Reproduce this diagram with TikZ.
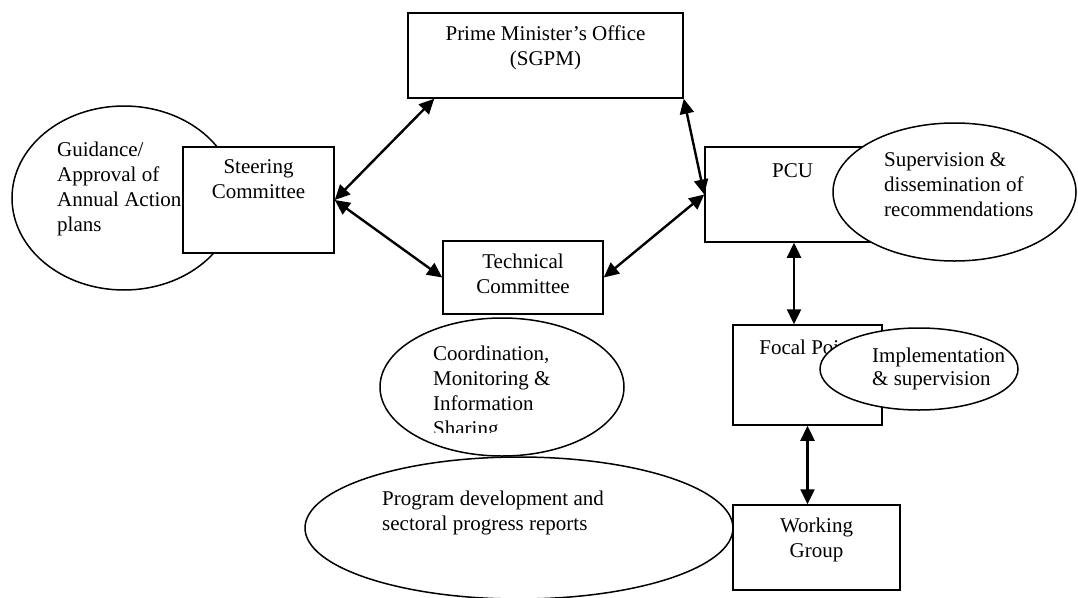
\documentclass[tikz,border=0pt]{standalone}
\usepackage{fontspec}
\setmainfont{Liberation Serif}
\usetikzlibrary{shapes.geometric,arrows.meta,calc}

\begin{document}
\begin{tikzpicture}[x=1pt,y=-1pt,
  box/.style={draw, line width=1.5pt, fill=white, rectangle, inner sep=0pt},
  oval/.style={draw, line width=1.5pt, fill=white, ellipse, inner sep=0pt},
  lbl/.style={inner sep=0pt, font=\fontsize{21}{25}\selectfont, execute at begin node=\strut},
  link/.style={line width=2.4pt, {Triangle[length=15pt,width=14pt]}-{Triangle[length=15pt,width=14pt]}},
]
\useasboundingbox (0,0) rectangle (1078,597);

% Prime Minister's Office
\node[box, minimum width=275pt, minimum height=85pt] (pmo) at (545.5,55.5) {};
\node[lbl, anchor=north, align=center] (pmoT) at (545.5,25.5) {Prime Minister’s Office\\(SGPM)};

% Steering committee with its role
\node[oval, minimum width=224pt, minimum height=184pt] (guide) at (124,198) {};
\node[lbl, anchor=north west, align=left] (guideT) at (57,141.5) {Guidance/\\Approval of\\Annual Action\\plans};
\node[box, minimum width=151pt, minimum height=106pt] (steer) at (258.5,200) {};
\node[lbl, anchor=north, align=center] (steerT) at (258.5,159.5) {Steering\\Committee};

% Technical committee with its role
\node[box, minimum width=160pt, minimum height=73pt] (tech) at (523,277.5) {};
\node[lbl, anchor=north, align=center] (techT) at (523,253.5) {Technical\\Committee};
\node[oval, minimum width=244pt, minimum height=138pt] (coord) at (502,387) {};
\begin{scope}
  \clip (380,300) rectangle (640,432);
  \node[lbl, anchor=north west, align=left] (coordT) at (433,345.5) {Coordination,\\Monitoring \&\\Information\\Sharing};
\end{scope}

% Program development
\node[oval, minimum width=428pt, minimum height=142pt] (prog) at (519,528) {};
\node[lbl, anchor=north west, align=left] (progT) at (382,491) {Program development and\\sectoral progress reports};

% PCU with its role
\node[box, minimum width=175pt, minimum height=95pt] (pcu) at (792.5,194.5) {};
\node[lbl, anchor=north] (pcuT) at (792.5,159.5) {PCU};
\node[oval, minimum width=243pt, minimum height=138pt] (superv) at (954.5,192) {};
\node[lbl, anchor=north west, align=left] (supervT) at (884,152.5) {Supervision \&\\dissemination of\\recommendations};

% Focal point with its role
\node[box, minimum width=149pt, minimum height=100pt] (focal) at (807.5,375) {};
\node[lbl, anchor=north] (focalT) at (807.5,336.5) {Focal Point};
\node[oval, minimum width=198pt, minimum height=82pt] (impl) at (919,369) {};
\node[lbl, anchor=north west, align=left, font=\fontsize{21}{23}\selectfont] (implT) at (872,348) {Implementation\\\& supervision};

% Working group
\node[box, minimum width=167pt, minimum height=85pt] (work) at (816.5,547.5) {};
\node[lbl, anchor=north, align=center] (workT) at (816.5,517.5) {Working\\Group};

% Two-way links
\coordinate (pfx) at (794,0);
\draw[link] (steer.east) -- ([xshift=27pt]pmo.south west);
\draw[link] (steer.east) -- (tech.west);
\draw[link] (tech.east) -- (pcu.west);
\draw[link] (pmo.south east) -- (pcu.west);
\draw[link] (pcu.south -| pfx) -- (focal.north -| pfx);
\draw[link] (focal.south) -- (focal.south |- work.north);
\end{tikzpicture}
\end{document}
